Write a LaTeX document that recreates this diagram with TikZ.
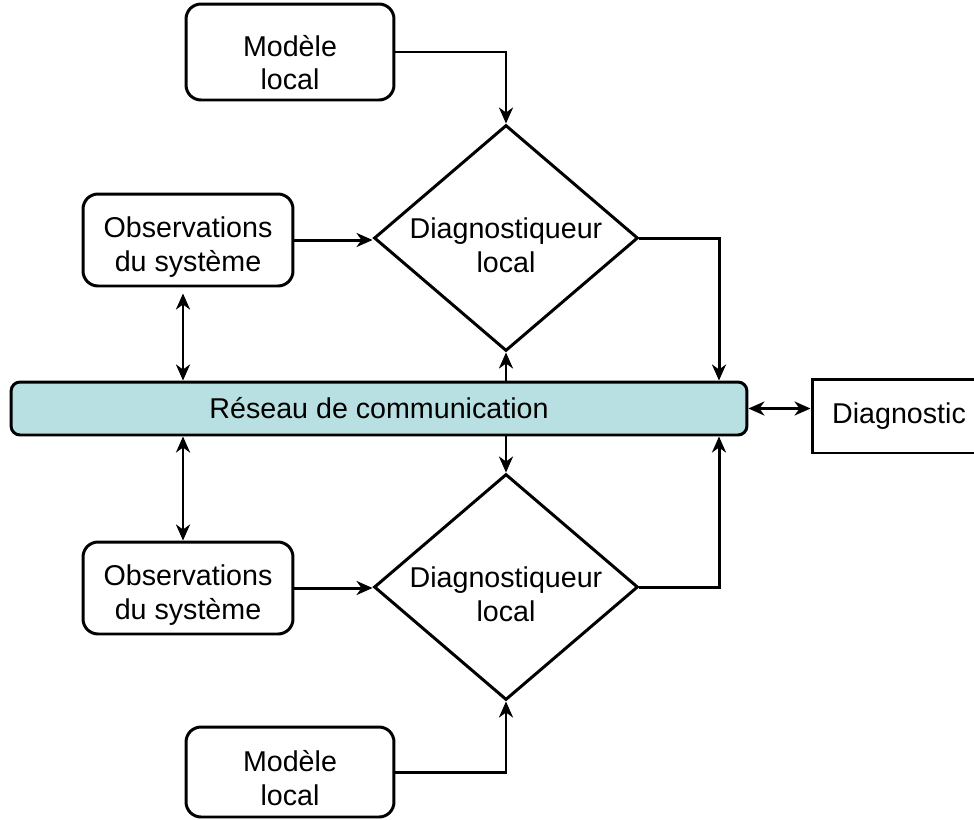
\documentclass[tikz,border=0pt]{standalone}
\usepackage{fontspec}
\setmainfont{Liberation Sans}
\usepackage{tikz}
\usetikzlibrary{shapes.geometric,arrows.meta}
\definecolor{reseaufond}{RGB}{184,224,226}

\begin{document}
\begin{tikzpicture}[x=0.02cm,y=-0.02cm,line width=1.7pt,
	font=\fontsize{16.3pt}{19.3pt}\selectfont,
	>={Stealth[length=0.32cm,width=0.28cm,inset=0.1cm]},
	boite/.style={draw,rounded corners=0.3cm,align=center,inner sep=0pt},
	losange/.style={draw,diamond,aspect=1.17,align=center,inner sep=-0.1cm,
		minimum width=5.28cm,minimum height=4.52cm,text height=1.36cm,text depth=0cm}]
	\useasboundingbox (0,0) rectangle (974,819);
	% Blocs
	\node[boite,minimum width=4.16cm,minimum height=1.92cm,text height=1.6cm,text depth=0.08cm] (modele1) at (290,52) {Modèle\\local};
	\node[losange] (diag1) at (506,238) {Diagnostiqueur\\local};
	\node[boite,minimum width=4.2cm,minimum height=1.84cm,text height=1.5cm,text depth=0.26cm] (obs1) at (188,240) {Observations\\du système};
	\node[draw,fill=reseaufond,rounded corners=0.18cm,minimum width=14.72cm,minimum height=1.06cm] (reseau) at (379,408.5) {Réseau de communication};
	\node[draw,minimum width=3.48cm,minimum height=1.48cm] (diagnostic) at (899,416) {Diagnostic};
	\node[losange] (diag2) at (506,587) {Diagnostiqueur\\local};
	\node[boite,minimum width=4.2cm,minimum height=1.84cm,text height=1.5cm,text depth=0.26cm] (obs2) at (188,588) {Observations\\du système};
	\node[boite,minimum width=4.16cm,minimum height=1.8cm,text height=1.5cm,text depth=0.16cm] (modele2) at (290,772) {Modèle\\local};
	\coordinate (gauche) at (183,0);
	\coordinate (droite) at (719,0);
	% Liaisons
	\draw[->] (modele1.east) -| (diag1.north);
	\draw[->] (obs1.east) -- (obs1.east -| diag1.west);
	\draw[->] (diag1.east) -| (droite |- reseau.north);
	\draw[<->,shorten <=0.12cm] (gauche |- obs1.south) -- (gauche |- reseau.north);
	\draw[->] (diag1.south |- reseau.north) -- (diag1.south);
	\draw[<->] (reseau.east) -- (reseau.east -| diagnostic.west);
	\draw[->] (diag2.north |- reseau.south) -- (diag2.north);
	\draw[<->] (gauche |- reseau.south) -- (gauche |- obs2.north);
	\draw[->] (obs2.east) -- (obs2.east -| diag2.west);
	\draw[->] (diag2.east) -| (droite |- reseau.south);
	\draw[->] (modele2.east) -| (diag2.south);
\end{tikzpicture}
\end{document}
